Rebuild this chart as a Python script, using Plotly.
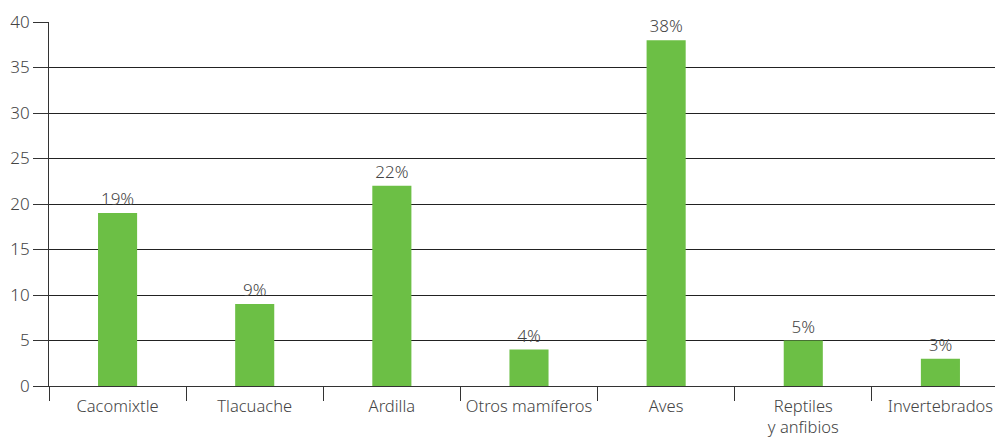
import plotly.graph_objects as go

categories = ["Cacomixtle", "Tlacuache", "Ardilla", "Otros mamíferos", "Aves", "Reptiles<br>y anfibios", "Invertebrados"]
values = [19, 9, 22, 4, 38, 5, 3]
labels = ["19%", "9%", "22%", "4%", "38%", "5%", "3%"]
y_ticks = [0, 5, 10, 15, 20, 25, 30, 35, 40]

fig = go.Figure(go.Bar(
    x=categories, y=values, text=labels, textposition="outside",
    textfont=dict(size=17, color="#444444", weight=300),
    marker=dict(color="#6cbf45", line=dict(width=0)),
    cliponaxis=False,
))

fig.update_layout(
    width=995, height=440,
    margin=dict(l=49, r=0, t=22, b=54),
    plot_bgcolor="white", paper_bgcolor="white",
    font=dict(family="Noto Sans", size=17, color="#444444", weight=300),
    bargap=0.715,
    showlegend=False,
)
fig.update_xaxes(
    range=[-0.5, 6.398], showline=True, linecolor="#333333", linewidth=1,
    ticks="outside", tickson="boundaries", ticklen=14, tickcolor="#333333",
    showgrid=False, tickfont=dict(size=16.5, color="#444444", weight=300),
    ticklabelstandoff=5, tickangle=0, automargin=False,
)
fig.update_yaxes(
    range=[0, 40], tickvals=y_ticks, showline=True, linecolor="#333333", linewidth=1,
    ticks="outside", ticklen=15, tickcolor="#333333",
    showgrid=True, gridcolor="#222222", gridwidth=1, zeroline=False,
    tickfont=dict(size=17, color="#444444", weight=300), automargin=False,
)

fig.write_html("out.html")
